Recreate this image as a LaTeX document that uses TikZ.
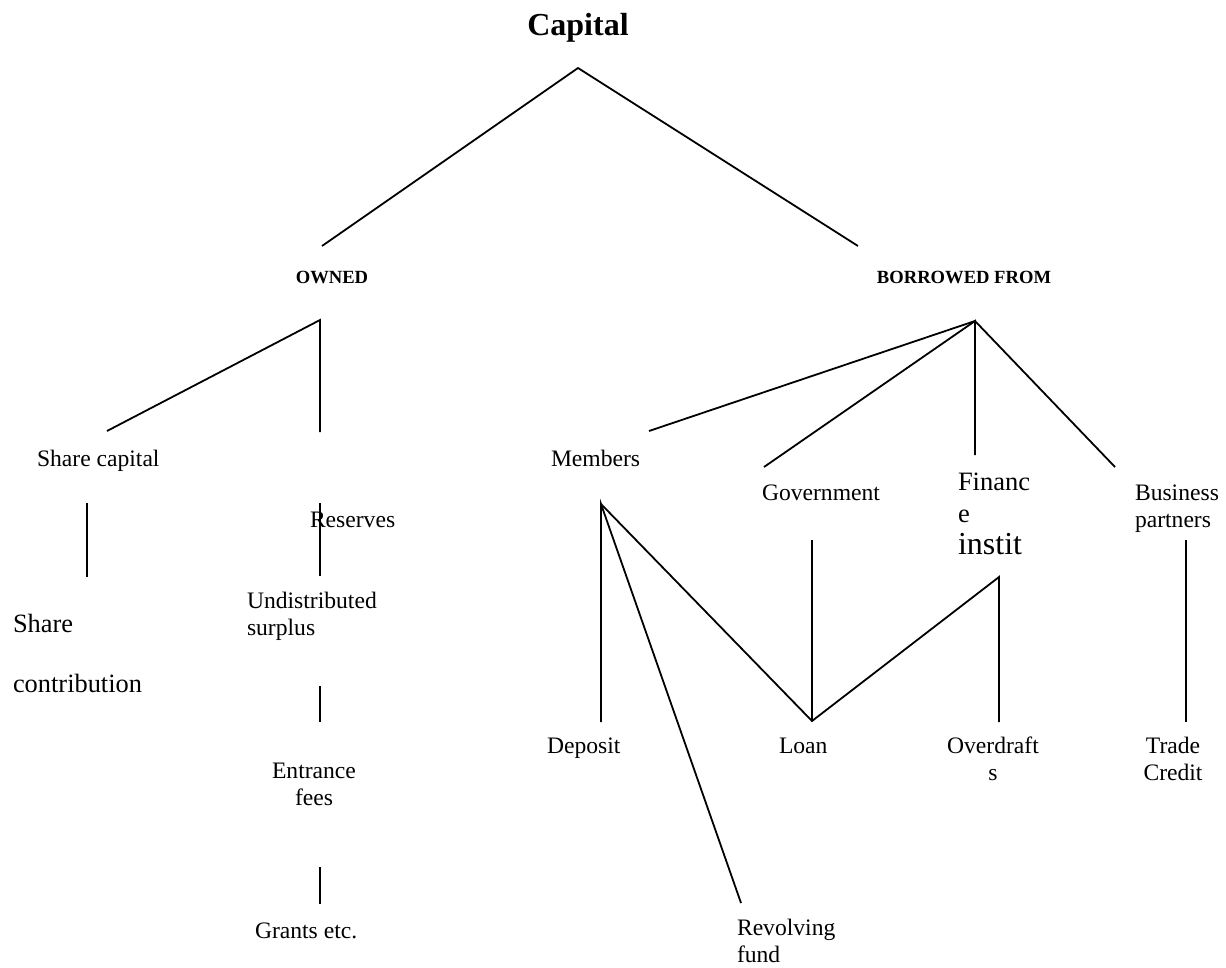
\documentclass[tikz,border=0pt]{standalone}
\usepackage{fontspec}
\setmainfont{Liberation Serif}
\tikzset{
  lbl/.style={inner sep=0pt, outer sep=0pt, font=\fontsize{23.6}{27}\selectfont},
  hdr/.style={inner sep=0pt, outer sep=0pt, font=\bfseries\fontsize{18.6}{22}\selectfont},
  link/.style={line width=1.8pt, line cap=butt}
}
\begin{document}
\begin{tikzpicture}[x=1pt,y=-1pt]
\useasboundingbox (0,0) rectangle (1226,967);
% texts (multi-line nodes are placed by the baseline of their last line)
\node[inner sep=0pt, font=\bfseries\fontsize{32}{36}\selectfont, anchor=base] (capital) at (578,35) {Capital};
\node[hdr, anchor=base] (owned) at (332,283) {OWNED};
\node[hdr, anchor=base] (borrowed) at (964,283) {BORROWED FROM};
\node[lbl, anchor=base west] (sharecap) at (37,466) {Share capital};
\node[lbl, anchor=base west] (reserves) at (310,527) {Reserves};
\node[lbl, anchor=base west] (members) at (551,466) {Members};
\node[lbl, anchor=base west] (government) at (762,500) {Government};
\node[lbl, anchor=base west, align=left, font=\fontsize{26.5}{32}\selectfont] (finance) at (958,554) {Financ\\e\\{\fontsize{32}{32}\selectfont instit}};
\node[lbl, anchor=base west, align=left] (business) at (1135,527) {Business\\partners};
\node[lbl, anchor=base west, align=left, font=\fontsize{26.4}{60}\selectfont] (sharecon) at (13,692) {Share\\contribution};
\node[lbl, anchor=base west, align=left] (undist) at (247,635) {Undistributed\\surplus};
\node[lbl, anchor=base, align=center] (entrance) at (314,805) {Entrance\\fees};
\node[lbl, anchor=base west] (grants) at (255,938) {Grants etc.};
\node[lbl, anchor=base west] (deposit) at (547,753) {Deposit};
\node[lbl, anchor=base west] (loan) at (779,753) {Loan};
\node[lbl, anchor=base, align=center] (overdrafts) at (993,780) {Overdraft\\s};
\node[lbl, anchor=base, align=center] (trade) at (1173,780) {Trade\\Credit};
\node[lbl, anchor=base west, align=left] (revolving) at (737,962) {Revolving\\fund};
% connector end points
\coordinate (capA) at (578,68);
\coordinate (ownT) at (322,246);
\coordinate (borT) at (858,246);
\coordinate (ownA) at (320,320);
\coordinate (shcT) at (107,431);
\coordinate (resT) at (320,432);
\coordinate (borA) at (975,321);
\coordinate (memT) at (649,431);
\coordinate (govT) at (764,467);
\coordinate (finT) at (975,455);
\coordinate (busT) at (1115,467);
\coordinate (shcB1) at (87,503);
\coordinate (shcB2) at (87,577);
\coordinate (resB1) at (320,503);
\coordinate (resB2) at (320,576);
\coordinate (undB1) at (320,686);
\coordinate (undB2) at (320,722);
\coordinate (entB1) at (320,867);
\coordinate (entB2) at (320,904);
\coordinate (memA) at (601,504);
\coordinate (depT) at (601,722);
\coordinate (revT) at (741,903);
\coordinate (loanT) at (812,721);
\coordinate (govB) at (812,540);
\coordinate (finA) at (999,577);
\coordinate (ovdT) at (999,722);
\coordinate (busB1) at (1186,540);
\coordinate (busB2) at (1186,722);
% connectors
\draw[link] (ownT) -- (capA) -- (borT);
\draw[link] (shcT) -- (ownA) -- (resT);
\draw[link] (memT) -- (borA) -- (busT);
\draw[link] (govT) -- (borA) -- (finT);
\draw[link] (shcB1) -- (shcB2);
\draw[link] (resB1) -- (resB2);
\draw[link] (undB1) -- (undB2);
\draw[link] (entB1) -- (entB2);
\draw[link] (depT) -- (memA) -- (revT);
\draw[link] (memA) -- (loanT) -- (finA) -- (ovdT);
\draw[link] (govB) -- (loanT);
\draw[link] (busB1) -- (busB2);
\end{tikzpicture}
\end{document}
